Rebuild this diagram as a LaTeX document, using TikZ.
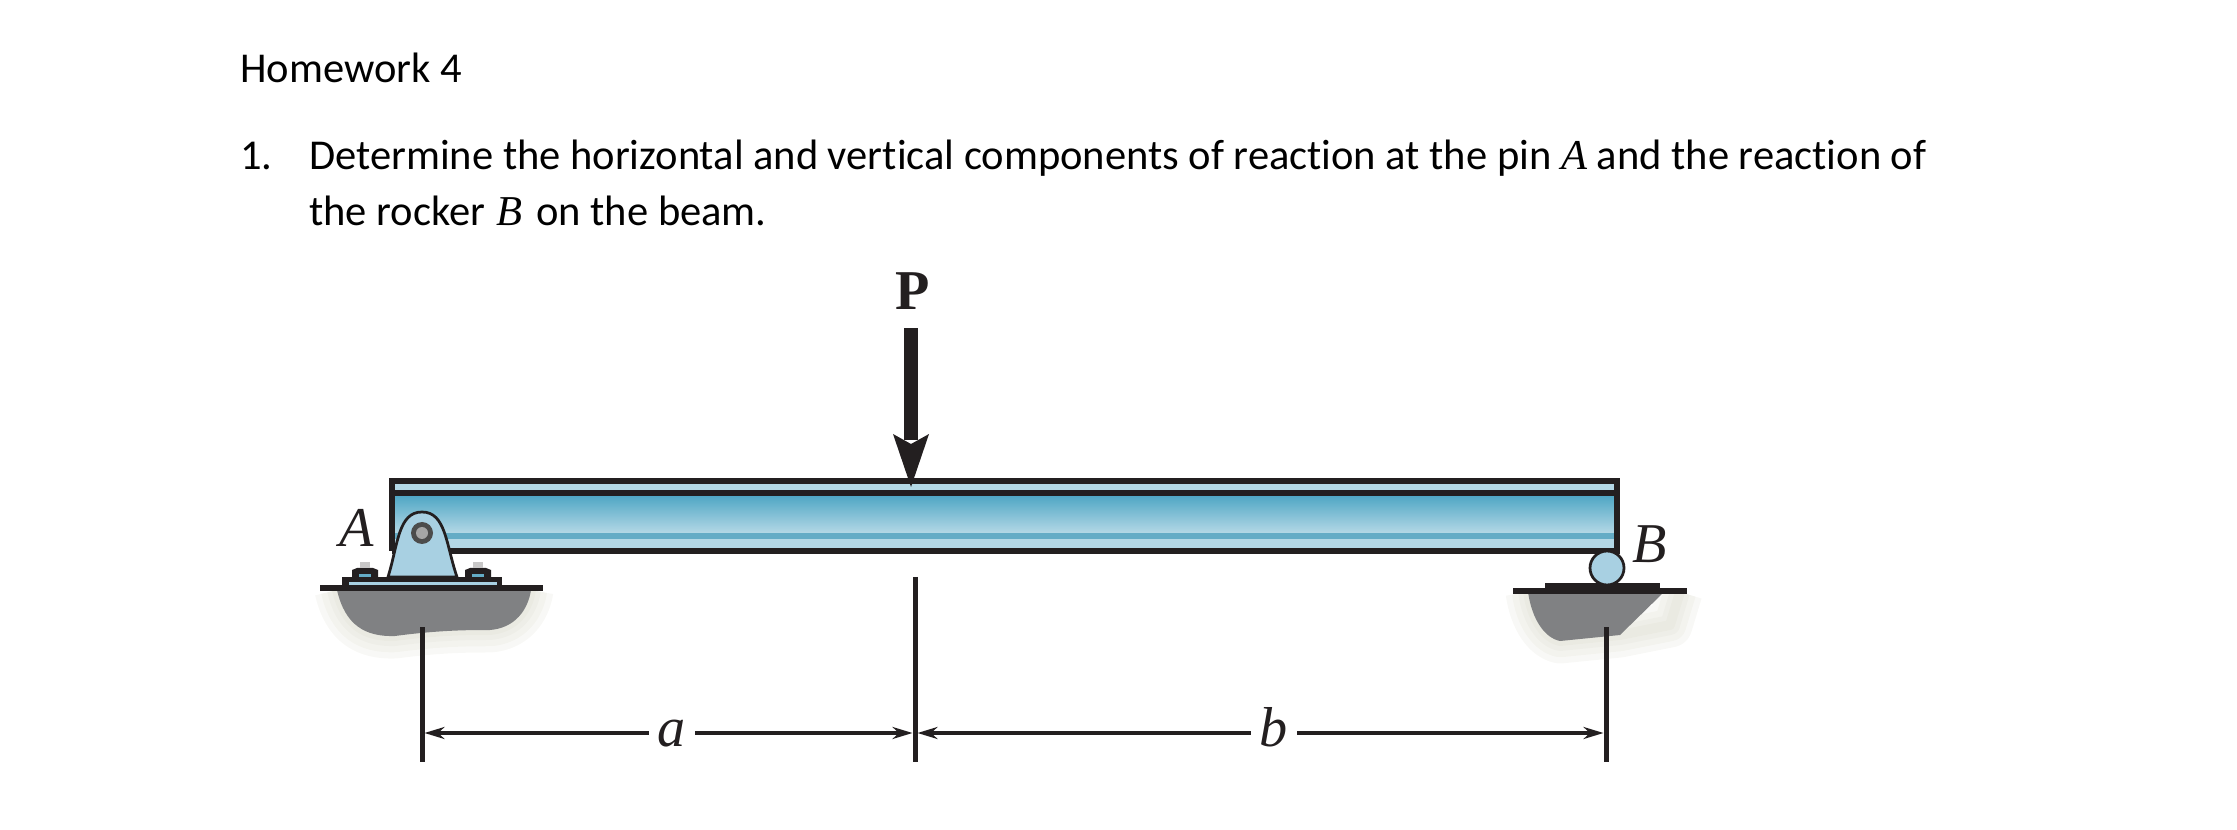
\documentclass[tikz,border=0pt]{standalone}
\usepackage{amsmath}
\usepackage{fontspec}
\setmainfont{Carlito}[Ligatures=NoCommon]
\newfontfamily\figfont{Liberation Serif}
\usetikzlibrary{arrows.meta}
\definecolor{beamdark}{RGB}{72,163,194}
\definecolor{beamlight}{RGB}{180,216,230}
\definecolor{beamband}{RGB}{100,172,198}
\definecolor{partblue}{RGB}{168,208,226}
\definecolor{groundgray}{RGB}{128,129,131}
\definecolor{groundhalo}{RGB}{214,214,198}
\definecolor{inkblack}{RGB}{35,31,32}
\newcommand{\figvar}[1]{{\figfont\itshape #1}}
\tikzset{
    bodytext/.style={anchor=base west, inner sep=0pt, font=\fontsize{24.2}{28}\selectfont},
    figlabel/.style={inner sep=0pt, text=inkblack, font=\figfont\fontsize{32}{32}\selectfont},
    dimlabel/.style={figlabel, text height=0.56cm, text depth=0cm},
    heavyline/.style={draw=inkblack, line width=0.105cm},
    thinline/.style={draw=inkblack, line width=0.055cm},
    dimline/.style={draw=inkblack, line width=0.1cm},
    dimarrow/.style={draw=inkblack, line width=0.09cm, -{Stealth[length=0.4cm,width=0.24cm]}, shorten >=0.05cm},
}
\begin{document}
\begin{tikzpicture}[x=0.02cm, y=-0.02cm]
    \useasboundingbox (0,0) rectangle (2237,830);

    \node[bodytext] (title) at (240, 83) {Homework 4};
    \node[bodytext] (number) at (240, 170) {1.};
    \node[bodytext] (lineone) at (309, 170) {Determine the horizontal and vertical components of reaction at the pin \figvar{A} and the reaction of};
    \node[bodytext] (linetwo) at (309, 226) {the rocker \hspace{0.04cm}\figvar{B}\hspace{0.08cm} on the beam.};

    % soft edge of the ground
    \begin{scope}
        \clip (300, 590) rectangle (1720, 670);
        \foreach \haloW in {0.9, 0.65, 0.4, 0.2} {
            \draw[groundhalo, opacity=0.16, line width=\haloW cm, line join=round] (337, 590) .. controls (345, 625) and (365, 637) .. (395, 636) .. controls (440, 630) and (470, 630) .. (490, 630) .. controls (515, 628) and (528, 610) .. (531, 590);
            \draw[groundhalo, opacity=0.16, line width=\haloW cm, line join=round] (1528, 592) .. controls (1532, 620) and (1545, 638) .. (1560, 641) -- (1620, 635) -- (1670, 625) -- (1680, 592);
        }
    \end{scope}

    % ground under the pin
    \fill[groundgray] (337, 590) .. controls (345, 625) and (365, 637) .. (395, 636) .. controls (440, 630) and (470, 630) .. (490, 630) .. controls (515, 628) and (528, 610) .. (531, 590) -- cycle;

    % ground under the rocker
    \fill[groundgray] (1528, 592) .. controls (1532, 620) and (1545, 638) .. (1560, 641) -- (1620, 635) -- (1664, 592) -- cycle;

    % beam
    \fill[beamlight] (392, 481) rectangle (1617, 493);
    \shade[top color=beamdark, bottom color=beamlight] (392, 493) rectangle (1617, 533);
    \fill[beamband] (392, 533) rectangle (1617, 539);
    \fill[beamlight] (392, 539) rectangle (1617, 551);
    \draw[heavyline] (392, 493) -- (1617, 493);
    \draw[heavyline] (392, 551) -- (392, 481) -- (1617, 481) -- (1617, 551) -- (392, 551);

    % pin support
    \fill[inkblack] (342, 577) rectangle (502, 588);
    \fill[partblue] (349, 582) rectangle (497, 585);
    \draw[thinline, fill=partblue] (388, 577) .. controls (398, 545) and (398, 512) .. (422, 512) .. controls (446, 512) and (446, 545) .. (457, 577) -- cycle;
    \fill[gray!60!black] (422, 533) circle (11);
    \fill[gray!70] (422, 533) circle (6);
    \foreach \boltx in {365, 478} {
        \fill[inkblack] (\boltx-13, 577) -- (\boltx-13, 570) -- (\boltx-8, 568) -- (\boltx+8, 568) -- (\boltx+13, 570) -- (\boltx+13, 577) -- cycle;
        \fill[beamband] (\boltx-6, 574) rectangle (\boltx+6, 577);
        \fill[inkblack!25] (\boltx-5, 562) rectangle (\boltx+5, 568);
    }
    \draw[heavyline] (320, 588) -- (543, 588);

    % rocker
    \fill[inkblack] (1545, 583) rectangle (1660, 590);
    \draw[heavyline] (1513, 591) -- (1687, 591);
    \draw[thinline, fill=partblue] (1607, 568) circle (17);

    % load
    \fill[inkblack] (904, 328) rectangle (918, 440);
    \fill[inkblack] (893, 434) -- (911, 444) -- (929, 434) -- (911, 487) -- cycle;
    \node[figlabel] (loadP) at (913, 291) {\bfseries P};

    \node[figlabel] (pinA) at (357, 528) {\figvar{A}};
    \node[figlabel] (rockerB) at (1650, 544) {\figvar{B}};

    % dimensions
    \coordinate (dimleft) at (422, 733);
    \coordinate (dimmid) at (915, 733);
    \coordinate (dimright) at (1606, 733);
    \draw[dimline] (422, 627) -- (422, 762);
    \draw[dimline] (915, 577) -- (915, 762);
    \draw[dimline] (1606, 627) -- (1606, 762);
    \node[dimlabel, minimum width=0.92cm] (dima) at (672, 733) {\figvar{a}};
    \node[dimlabel, minimum width=0.92cm] (dimb) at (1274, 733) {\figvar{b}};
    \draw[dimarrow] (dima) -- (dimleft);
    \draw[dimarrow] (dima) -- (dimmid);
    \draw[dimarrow] (dimb) -- (dimmid);
    \draw[dimarrow] (dimb) -- (dimright);
\end{tikzpicture}
\end{document}
